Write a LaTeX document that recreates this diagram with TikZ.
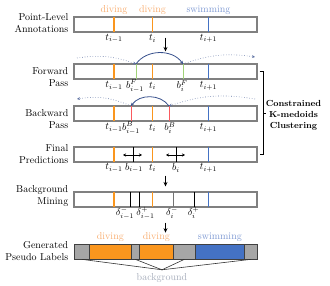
\documentclass[tikz,border=0pt]{standalone}
\usepackage{amsmath,amssymb}
\usetikzlibrary{arrows.meta,positioning}
\definecolor{actorange}{RGB}{250,150,30}
\definecolor{actblue}{RGB}{68,114,196}
\definecolor{fwdgreen}{RGB}{160,210,120}
\definecolor{bwdred}{RGB}{250,90,95}
\definecolor{bargray}{RGB}{128,128,128}
\definecolor{bggray}{RGB}{166,166,166}
\definecolor{arcblue}{RGB}{55,80,140}
\definecolor{divetext}{RGB}{248,172,110}
\definecolor{swimtext}{RGB}{125,152,210}
\definecolor{bgtext}{RGB}{165,172,186}

\begin{document}
\begin{tikzpicture}[x=1pt, y=1pt,
  bar/.style={draw=bargray, line width=1.1pt, minimum width=183pt, minimum height=15pt, inner sep=0pt},
  seg/.style={draw=black!75, line width=0.7pt, minimum height=15pt, inner sep=0pt, anchor=west},
  rowlabel/.style={anchor=east, align=right, font=\fontsize{10}{12.5}\selectfont, inner sep=0pt},
  ptlabel/.style={font=\fontsize{10}{12}\selectfont, inner sep=0pt},
  clsline/.style={line width=1.6pt},
  bndline/.style={line width=0.9pt},
  arcsolid/.style={draw=arcblue, line width=0.8pt, -{Stealth[length=3pt,width=3pt]}},
  arcdot/.style={draw=arcblue!80, line width=0.6pt, dotted, -{Stealth[length=3pt,width=3pt]}},
  down/.style={line width=1pt, -{Stealth[length=4.5pt,width=4pt]}},
  slide/.style={line width=0.6pt, {Stealth[length=3pt,width=3pt]}-{Stealth[length=3pt,width=3pt]}}]
\useasboundingbox (0,0) rectangle (330,-286);

% bars
\node[bar] (pla) at (165.5,-24.5) {};
\node[bar] (fwd) at (165.5,-71.5) {};
\node[bar] (bwd) at (165.5,-113.5) {};
\node[bar] (fin) at (165.5,-154.5) {};
\node[bar] (mine) at (165.5,-199.5) {};

\node[rowlabel] (lpla) at (68.5,-23) {Point-Level\\Annotations};
\node[rowlabel] (lfwd) at (68.5,-77) {Forward\\Pass};
\node[rowlabel] (lbwd) at (68.5,-119) {Backward\\Pass};
\node[rowlabel] (lfin) at (68.5,-154) {Final\\Predictions};
\node[rowlabel] (lmine) at (68.5,-196) {Background\\Mining};
\node[rowlabel] (lpsd) at (68.5,-251) {Generated\\Pseudo Labels};

% class points on every bar
\foreach \yt/\yb in {17/32,64/79,106/121,147/162,192/207} {
\draw[clsline, actorange] (114,-\yt) -- (114,-\yb);
\draw[clsline, actorange] (152.5,-\yt) -- (152.5,-\yb);
\draw[clsline, actblue] (208.5,-\yt) -- (208.5,-\yb);
}
\node[ptlabel, text=divetext] (c1) at (114,-10) {diving};
\node[ptlabel, text=divetext] (c2) at (152.5,-10) {diving};
\node[ptlabel, text=swimtext] (c3) at (208.5,-10) {swimming};

\foreach \n/\y in {a/38.5,b/86,c/128,d/168} {
\node[ptlabel] (tp\n) at (114,-\y) {$t_{i-1}$};
\node[ptlabel] (tc\n) at (152.5,-\y) {$t_{i}$};
\node[ptlabel] (tn\n) at (208.5,-\y) {$t_{i+1}$};
}

% forward pass
\draw[bndline, fwdgreen] (136,-64) -- (136,-79);
\draw[bndline, fwdgreen] (183,-64) -- (183,-79);
\node[ptlabel] (bf1) at (135,-86) {$b^{F}_{i-1}$};
\node[ptlabel] (bf2) at (182,-86) {$b^{F}_{i}$};
\coordinate (fa) at (77,-58);
\coordinate (fb) at (136,-64);
\coordinate (fc) at (183,-64);
\coordinate (fd) at (255,-57);
\draw[arcdot] (fa) to[bend left=14] (fb);
\draw[arcsolid] (fb) to[bend left=55] (fc);
\draw[arcdot] (fc) to[bend left=14] (fd);

% backward pass
\draw[bndline, bwdred] (131,-106) -- (131,-121);
\draw[bndline, bwdred] (169,-106) -- (169,-121);
\node[ptlabel] (bb1) at (131,-128) {$b^{B}_{i-1}$};
\node[ptlabel] (bb2) at (170,-128) {$b^{B}_{i}$};
\coordinate (ba) at (255,-99);
\coordinate (bb) at (169,-106);
\coordinate (bc) at (131,-106);
\coordinate (bd) at (77,-99);
\draw[arcdot] (ba) to[bend right=14] (bb);
\draw[arcsolid] (bb) to[bend right=55] (bc);
\draw[arcdot] (bc) to[bend right=16] (bd);

% final predictions
\foreach \x/\n in {133/1,176/2} {
\draw[bndline] (\x,-147) -- (\x,-162);
\coordinate (sl\n) at (\x-10,-155);
\coordinate (sr\n) at (\x+9,-155);
\draw[slide] (sl\n) -- (sr\n);
}
\node[ptlabel] (bp1) at (134,-168) {$b_{i-1}$};
\node[ptlabel] (bp2) at (176,-168) {$b_{i}$};

% background mining
\draw[bndline] (130.5,-192) -- (130.5,-207);
\draw[bndline] (139,-192) -- (139,-207);
\draw[bndline, black!55] (173,-192) -- (173,-207);
\draw[bndline] (194,-192) -- (194,-207);
\node[ptlabel] (dm1) at (125,-213) {$\delta^{-}_{i-1}$};
\node[ptlabel] (dp1) at (145.5,-213) {$\delta^{+}_{i-1}$};
\node[ptlabel] (dm2) at (172,-213) {$\delta^{-}_{i}$};
\node[ptlabel] (dp2) at (193.5,-213) {$\delta^{+}_{i}$};

% pseudo labels
\node[seg, fill=bggray, minimum width=15pt] (g1) at (74,-251.5) {};
\node[seg, fill=actorange, minimum width=42pt] (o1) at (89,-251.5) {};
\node[seg, fill=bggray, minimum width=8pt] (g2) at (131,-251.5) {};
\node[seg, fill=actorange, minimum width=34pt] (o2) at (139,-251.5) {};
\node[seg, fill=bggray, minimum width=22pt] (g3) at (173,-251.5) {};
\node[seg, fill=actblue, minimum width=49pt] (s1) at (195,-251.5) {};
\node[seg, fill=bggray, minimum width=13pt] (g4) at (244,-251.5) {};
\node[ptlabel, text=divetext, above=1.5pt of o1] (pd1) {diving};
\node[ptlabel, text=divetext, above=1.5pt of o2] (pd2) {diving};
\node[ptlabel, text=swimtext, above=1.5pt of s1] (ps1) {swimming};
\node[ptlabel, text=bgtext] (bgl) at (162,-278) {background};
\coordinate (bgtip) at ([yshift=3.5pt]bgl.north);
\foreach \g in {g1,g2,g3,g4} {
\draw[line width=0.6pt, black!80] (\g.south) -- (bgtip);
}

% flow arrows
\draw[down, shorten <=5pt, shorten >=12pt] (pla.south) -- (fwd.north);
\draw[down, shorten <=13pt, shorten >=5pt] (fin.south) -- (mine.north);
\draw[down, shorten <=15pt, shorten >=11pt] (mine.south) -- (o1.north -| mine.south);

% clustering bracket
\draw[line width=0.7pt] ([xshift=2pt]fwd.east) -- ++(4,0) |- ([xshift=2pt]fin.east);
\draw[line width=0.7pt] ([xshift=6pt]bwd.east) -- ++(2.5,0);
\node[font=\fontsize{8.8}{11}\selectfont\bfseries, align=center, inner sep=0pt] (ckc) at (293.5,-115) {Constrained\\K-medoids\\Clustering};
\end{tikzpicture}
\end{document}
